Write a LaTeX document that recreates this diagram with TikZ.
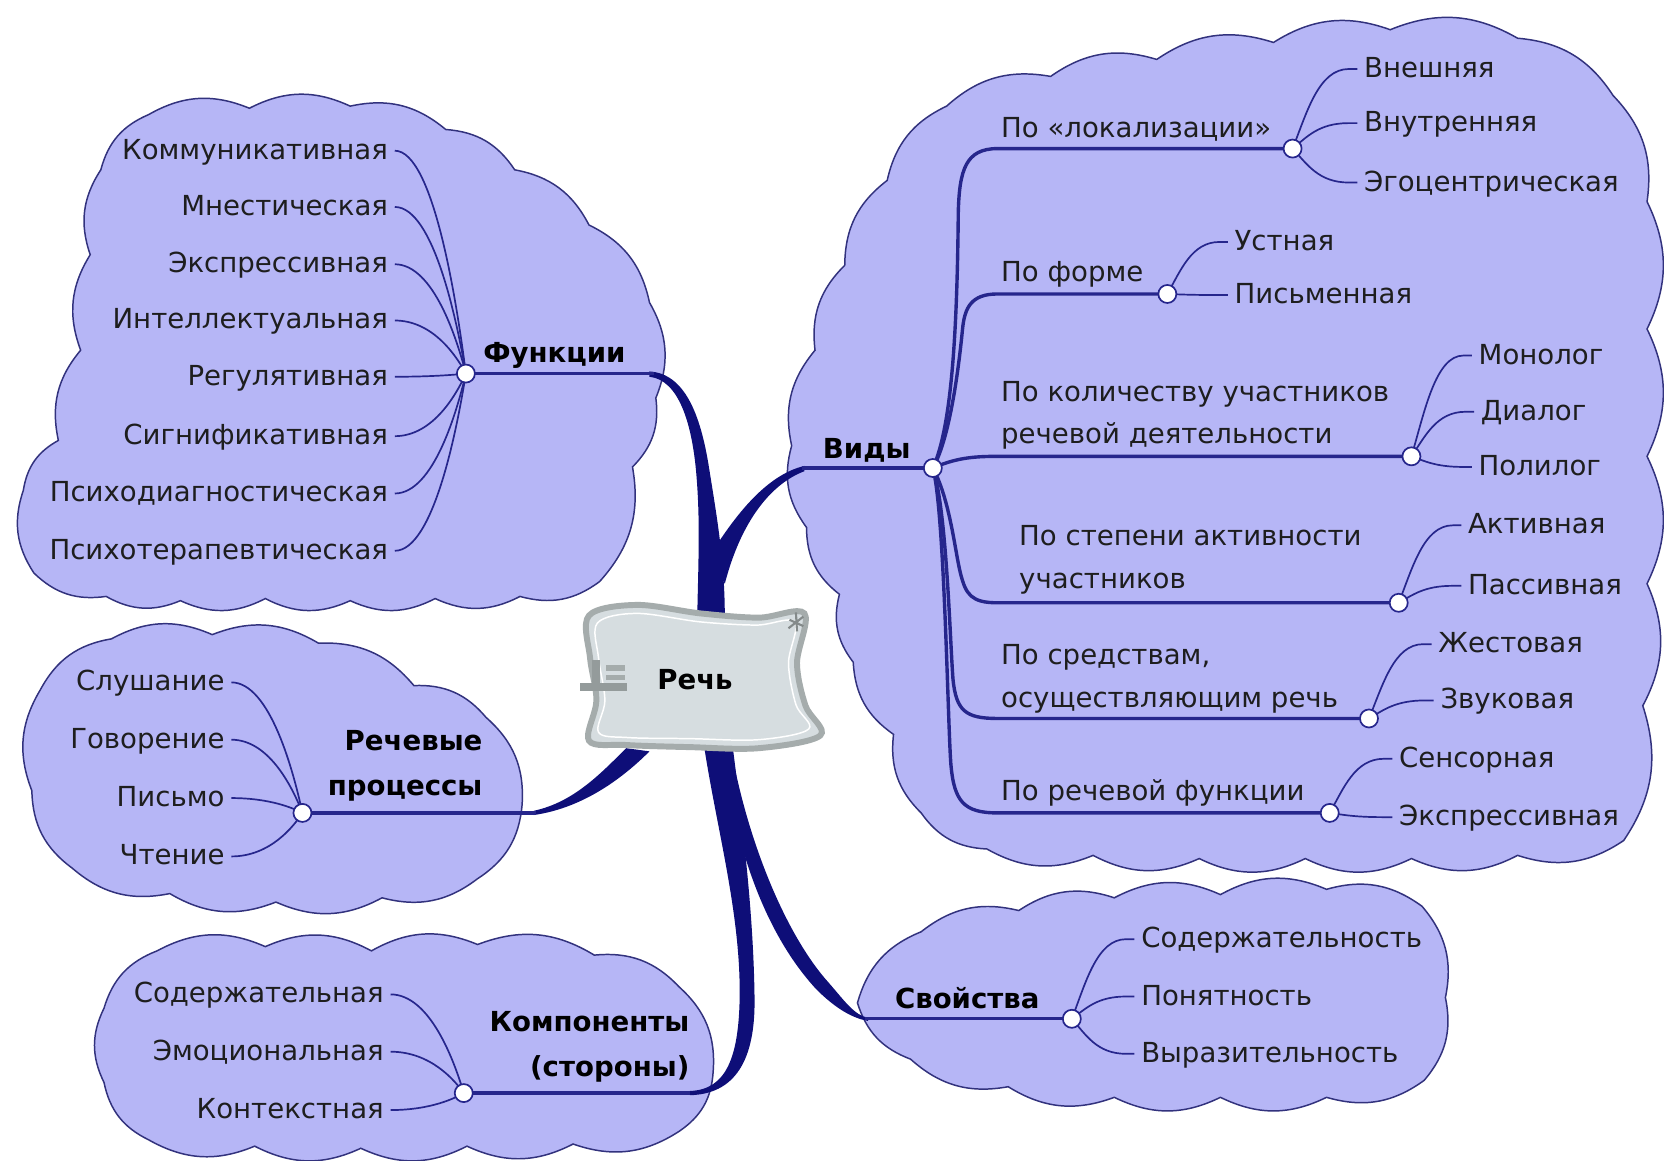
\documentclass[tikz,border=0pt]{standalone}
\usepackage{fontspec}
\setmainfont{DejaVu Sans}
\usetikzlibrary{calc}
\definecolor{cloudfill}{RGB}{182,182,246}
\definecolor{cloudline}{RGB}{50,50,125}
\definecolor{branch}{RGB}{14,14,120}
\definecolor{thin}{RGB}{38,38,140}
\definecolor{nodefill}{RGB}{214,221,224}
\definecolor{nodeline}{RGB}{165,172,172}
\definecolor{txt}{RGB}{30,30,30}
\newcommand\conL[2]{\draw[con] let \p1=([xshift=3pt]#1.east), \p2=(#2) in (\p1) .. controls ({\x1+0.55*(\x2-\x1)},\y1) and ({\x2-0.12*(\x2-\x1)},{\y2+0.3*(\y1-\y2)}) .. (\p2);}
\newcommand\conR[2]{\draw[con] let \p1=(#1), \p2=([xshift=-3pt]#2.west) in (\p1) .. controls ({\x1+0.22*(\x2-\x1)},{\y1+0.45*(\y2-\y1)}) and ({\x1+0.4*(\x2-\x1)},\y2) .. ({\x2-4pt},\y2) -- (\p2);}
\begin{document}
\begin{tikzpicture}[x=0.5pt,y=-0.5pt,
  cloud/.style={fill=cloudfill, draw=cloudline, line width=0.7pt},
  bl/.style={bend left=26},
  leaf/.style={inner sep=0pt, text height=10pt, text depth=2pt, font=\fontsize{13}{16}\selectfont, text=txt},
  lbl/.style={inner sep=0pt, align=left, font=\fontsize{13}{20}\selectfont, text=txt},
  head/.style={inner sep=0pt, font=\bfseries\fontsize{13}{21}\selectfont, text=black},
  hub/.style={circle, fill=white, draw=thin, line width=0.8pt, minimum size=8.5pt, inner sep=0pt},
  con/.style={draw=thin, line width=0.8pt},
  bar/.style={draw=thin, line width=1.6pt},
  trunk/.style={fill=branch}]
\useasboundingbox (0,0) rectangle (1568,1094);
\fill[white] (0,0) rectangle (1568,1094);

% ---------- clouds ----------
\draw[cloud] (95,160) to[bl] (140,108) to[bl] (235,102) to[bl] (330,100) to[bl] (420,122) to[bl] (485,160) to[bl] (555,212) to[bl] (612,285) to[bl] (618,375) to[bl] (596,440) to[bl] (565,548) to[bl] (490,562) to[bl] (410,564) to[bl] (330,566) to[bl] (250,564) to[bl] (170,566) to[bl] (100,562) to[bl] (32,540) to[bl] (22,462) to[bl] (55,415) to[bl] (76,330) to[bl] (85,240) to[bl] (95,160) -- cycle;

\draw[cloud] (38,650) to[bl] (105,602) to[bl] (200,598) to[bl] (300,606) to[bl] (390,646) to[bl] (458,676) to[bl] (492,758) to[bl] (450,828) to[bl] (360,846) to[bl] (260,850) to[bl] (160,842) to[bl] (68,818) to[bl] (30,745) to[bl] (38,650) -- cycle;

\draw[cloud] (98,950) to[bl] (148,896) to[bl] (250,892) to[bl] (350,896) to[bl] (450,890) to[bl] (560,900) to[bl] (640,930) to[bl] (672,1010) to[bl] (640,1066) to[bl] (540,1078) to[bl] (440,1080) to[bl] (340,1082) to[bl] (240,1080) to[bl] (140,1074) to[bl] (98,1020) to[bl] (98,950) -- cycle;

\draw[cloud] (808,945) to[bl] (868,878) to[bl] (960,858) to[bl] (1050,846) to[bl] (1150,843) to[bl] (1250,838) to[bl] (1340,854) to[bl] (1362,940) to[bl] (1342,1018) to[bl] (1250,1034) to[bl] (1150,1034) to[bl] (1050,1034) to[bl] (950,1024) to[bl] (858,998) to[bl] (808,945) -- cycle;

\draw[cloud] (746,420) to[bl] (768,330) to[bl] (796,250) to[bl] (836,170) to[bl] (892,100) to[bl] (990,72) to[bl] (1090,56) to[bl] (1200,40) to[bl] (1310,28) to[bl] (1430,36) to[bl] (1520,90) to[bl] (1552,190) to[bl] (1552,310) to[bl] (1552,430) to[bl] (1552,550) to[bl] (1548,665) to[bl] (1530,792) to[bl] (1430,806) to[bl] (1330,809) to[bl] (1230,809) to[bl] (1130,809) to[bl] (1030,806) to[bl] (930,800) to[bl] (868,766) to[bl] (842,692) to[bl] (804,624) to[bl] (791,560) to[bl] (760,497) to[bl] (746,420) -- cycle;

% ---------- hub coordinates ----------
\coordinate (fh) at (439,352);
\coordinate (vh) at (879,441);
\coordinate (rh) at (285,766);
\coordinate (kh) at (437,1030);
\coordinate (sh) at (1010,960);
\coordinate (h1) at (1218,140);
\coordinate (h2) at (1100,277);
\coordinate (h3) at (1330,430);
\coordinate (h4) at (1318,568);
\coordinate (h5) at (1290,677);
\coordinate (h6) at (1253,766);
\coordinate (ft) at (616,352);
\coordinate (vt) at (756,441);
\coordinate (rt) at (505,766);
\coordinate (kt) at (650,1030);
\coordinate (st) at (815,960);

% ---------- thick main branches ----------
\fill[trunk] (612,350) .. controls (645,352) and (660,390) .. (668,440) .. controls (676,490) and (683,530) .. (683,582)
  -- (657,582) .. controls (658,530) and (660,490) .. (656,445) .. controls (652,400) and (640,358) .. (612,355) -- cycle;
\fill[trunk] (668,525) .. controls (690,490) and (720,448) .. (758,439) -- (758,444) .. controls (726,456) and (698,492) .. (683,550) -- cycle;
\fill[trunk] (663,700) .. controls (675,780) and (698,860) .. (697,940) .. controls (696,995) and (685,1027) .. (650,1028)
  -- (650,1032) .. controls (692,1031) and (712,1000) .. (711,940) .. controls (710,860) and (700,780) .. (690,700) -- cycle;
\fill[trunk] (688,700) .. controls (703,790) and (740,880) .. (780,925) .. controls (795,942) and (805,957) .. (818,959)
  -- (818,962) .. controls (800,959) and (783,946) .. (769,932) .. controls (735,895) and (712,845) .. (697,790) -- cycle;
\fill[trunk] (590,705) .. controls (565,730) and (540,756) .. (503,764) -- (503,768) .. controls (545,762) and (582,738) .. (612,708) -- cycle;

% ---------- central node ----------
\path[fill=nodefill, draw=nodeline, line width=2.8pt] plot[smooth cycle, tension=0.55] coordinates {(555,580) (600,570) (660,578) (715,582) (758,578) (751,625) (759,665) (773,693) (715,705) (650,704) (590,702) (555,698) (562,660) (556,620)};
\path[draw=white, line width=0.7pt] plot[smooth cycle, tension=0.55] coordinates {(563,587) (600,578) (660,586) (713,589) (749,586) (743,625) (750,664) (762,687) (715,697) (650,696) (592,695) (564,690) (570,660) (564,620)};
\node[head, anchor=base west] (rech) at (619,650) {Речь};
\fill[nodeline!90!black] (547,644) rectangle (591,651);
\fill[nodeline!90!black] (558,622) rectangle (565,644);
\fill[nodeline] (571,627) rectangle (589,632);
\fill[nodeline] (571,636) rectangle (589,641);
\draw[nodeline!80!black, line width=1pt] (744,584) -- (757,590) (750,577) -- (751,595) (743,592) -- (757,581);

% ---------- Функции ----------
\foreach \q/\t/\y in {f1/Коммуникативная/142, f2/Мнестическая/195, f3/Экспрессивная/249, f4/Интеллектуальная/302, f5/Регулятивная/355, f6/Сигнификативная/411, f7/Психодиагностическая/465, f8/Психотерапевтическая/519}
  \node[leaf, anchor=east] (\q) at (366,\y) {\t};
\conL{f1}{fh} \conL{f2}{fh} \conL{f3}{fh} \conL{f4}{fh}
\conL{f5}{fh} \conL{f6}{fh} \conL{f7}{fh} \conL{f8}{fh}
\draw[bar] (fh) -- (ft);
\node[head, anchor=base west] (fl) at (455,342) {Функции};

% ---------- Речевые процессы ----------
\foreach \q/\t/\y in {r1/Слушание/643, r2/Говорение/697, r3/Письмо/752, r4/Чтение/807}
  \node[leaf, anchor=east] (\q) at (212,\y) {\t};
\conL{r1}{rh} \conL{r2}{rh} \conL{r3}{rh} \conL{r4}{rh}
\draw[bar] (rh) -- (rt);
\node[head, anchor=north east, align=right] (rl) at (455,688) {Речевые\\процессы};

% ---------- Компоненты ----------
\foreach \q/\t/\y in {k1/Содержательная/937, k2/Эмоциональная/991, k3/Контекстная/1046}
  \node[leaf, anchor=east] (\q) at (362,\y) {\t};
\conL{k1}{kh} \conL{k2}{kh} \conL{k3}{kh}
\draw[bar] (kh) -- (kt);
\node[head, anchor=north east, align=right] (kl) at (650,953) {Компоненты\\(стороны)};

% ---------- Свойства ----------
\draw[bar] (st) -- (sh);
\node[head, anchor=base west] (sl) at (843,950) {Свойства};
\foreach \q/\t/\y in {s1/Содержательность/885, s2/Понятность/939, s3/Выразительность/993}
  \node[leaf, anchor=west] (\q) at (1075,\y) {\t};
\conR{sh}{s1} \conR{sh}{s2} \conR{sh}{s3}

% ---------- Виды ----------
\draw[bar] (vt) -- (vh);
\node[head, anchor=base west] (vl) at (775,432) {Виды};
\draw[bar] (vh) .. controls (898,400) and (902,300) .. (903,200) .. controls (904,160) and (910,140) .. (940,140) -- (h1);
\draw[bar] (vh) .. controls (897,410) and (905,330) .. (907,310) .. controls (909,290) and (915,277) .. (940,277) -- (h2);
\draw[bar] (vh) .. controls (900,432) and (915,430) .. (940,430) -- (h3);
\draw[bar] (vh) .. controls (895,470) and (900,520) .. (905,540) .. controls (910,560) and (915,568) .. (940,568) -- (h4);
\draw[bar] (vh) .. controls (892,480) and (895,600) .. (898,640) .. controls (901,670) and (910,677) .. (940,677) -- (h5);
\draw[bar] (vh) .. controls (890,480) and (893,680) .. (896,720) .. controls (899,755) and (908,766) .. (940,766) -- (h6);

\node[lbl, anchor=base west] (v1) at (943,130) {По «локализации»};
\node[lbl, anchor=base west] (v2) at (943,265) {По форме};
\node[lbl, anchor=north west] (v3) at (943,359) {По количеству участников\\речевой деятельности};
\node[lbl, anchor=north west] (v4) at (960,495) {По степени активности\\участников};
\node[lbl, anchor=north west] (v5) at (943,607) {По средствам,\\осуществляющим речь};
\node[lbl, anchor=base west] (v6) at (943,754) {По речевой функции};

\node[leaf, anchor=west] (a1) at (1285,65) {Внешняя};
\node[leaf, anchor=west] (a2) at (1285,116) {Внутренняя};
\node[leaf, anchor=west] (a3) at (1285,172) {Эгоцентрическая};
\node[leaf, anchor=west] (b1) at (1163,228) {Устная};
\node[leaf, anchor=west] (b2) at (1163,278) {Письменная};
\node[leaf, anchor=west] (c1) at (1393,335) {Монолог};
\node[leaf, anchor=west] (c2) at (1395,388) {Диалог};
\node[leaf, anchor=west] (c3) at (1393,440) {Полилог};
\node[leaf, anchor=west] (d1) at (1383,495) {Активная};
\node[leaf, anchor=west] (d2) at (1383,552) {Пассивная};
\node[leaf, anchor=west] (e1) at (1355,607) {Жестовая};
\node[leaf, anchor=west] (e2) at (1357,660) {Звуковая};
\node[leaf, anchor=west] (g1) at (1318,715) {Сенсорная};
\node[leaf, anchor=west] (g2) at (1318,770) {Экспрессивная};
\conR{h1}{a1} \conR{h1}{a2} \conR{h1}{a3}
\conR{h2}{b1} \conR{h2}{b2}
\conR{h3}{c1} \conR{h3}{c2} \conR{h3}{c3}
\conR{h4}{d1} \conR{h4}{d2}
\conR{h5}{e1} \conR{h5}{e2}
\conR{h6}{g1} \conR{h6}{g2}

% ---------- hub circles ----------
\foreach \h in {fh,vh,rh,kh,sh,h1,h2,h3,h4,h5,h6}
  \node[hub] (\h c) at (\h) {};
\end{tikzpicture}
\end{document}
